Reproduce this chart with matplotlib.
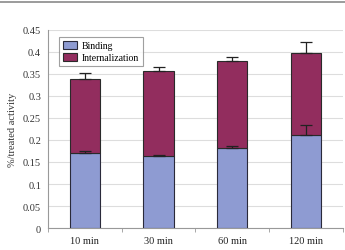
import matplotlib
matplotlib.use("Agg")
import matplotlib.pyplot as plt
from matplotlib.lines import Line2D
import numpy as np

categories = ["10 min", "30 min", "60 min", "120 min"]
binding = [0.170, 0.164, 0.182, 0.211]
internalization = [0.169, 0.192, 0.197, 0.186]
binding_err = [0.005, 0.002, 0.004, 0.023]
total_err = [0.013, 0.009, 0.010, 0.026]
yticks = [0, 0.05, 0.1, 0.15, 0.2, 0.25, 0.3, 0.35, 0.4, 0.45]
ytick_labels = ["0", "0.05", "0.1", "0.15", "0.2", "0.25", "0.3", "0.35", "0.4", "0.45"]

plt.rcParams['font.family'] = ['Liberation Serif', 'DejaVu Serif']

fig = plt.figure(figsize=(3.45, 2.51), dpi=100)
fig.add_artist(Line2D([0, 1], [0.988, 0.988], color="#8a8a8a", lw=1.2, transform=fig.transFigure))
ax = fig.add_axes([0.139, 0.0876, 0.855, 0.789])

x = np.arange(len(categories))
w = 0.41
c_bind = "#8e9bd2"
c_int = "#922d5e"
ax.bar(x, binding, w, color=c_bind, edgecolor="#2a2a3a", lw=0.8, label="Binding", zorder=3)
totals = [b + i for b, i in zip(binding, internalization)]
ax.bar(x, internalization, w, bottom=binding, color=c_int, edgecolor="#2a2a2a", lw=0.8,
       label="Internalization", zorder=3)
ax.errorbar(x, binding, yerr=[np.zeros(len(x)), binding_err], fmt="none", ecolor="#222222",
            elinewidth=0.9, capsize=4.5, capthick=0.9, zorder=4)
ax.errorbar(x, totals, yerr=[np.zeros(len(x)), total_err], fmt="none", ecolor="#222222",
            elinewidth=0.9, capsize=4.5, capthick=0.9, zorder=4)

ax.set_ylim(0, 0.45)
ax.set_xlim(-0.5, len(categories) - 0.5)
ax.set_yticks(yticks)
ax.set_yticklabels(ytick_labels, fontsize=7.5, color="#333333")
ax.yaxis.grid(True, color="#dddddd", lw=0.8, zorder=0)
ax.tick_params(axis="y", length=0, pad=5)
ax.set_xticks(x)
ax.set_xticklabels(categories, fontsize=7.5, color="#222222")
ax.set_xticks(np.arange(len(categories) + 1) - 0.5, minor=True)
ax.tick_params(axis="x", which="major", length=0, pad=6)
ax.tick_params(axis="x", which="minor", length=3, color="#999999", direction="out")
for s in ["top", "right"]:
    ax.spines[s].set_visible(False)
ax.spines["left"].set_color("#999999")
ax.spines["bottom"].set_color("#999999")
ax.spines["left"].set_linewidth(0.8)
ax.spines["bottom"].set_linewidth(0.8)
ax.set_ylabel("%/treated activity", fontsize=7.5, color="#333333", labelpad=4)

leg = ax.legend(loc="upper left", bbox_to_anchor=(0.02, 0.99), fontsize=7, frameon=True,
                fancybox=False, edgecolor="#888888", handlelength=1.5, handleheight=0.9,
                borderpad=0.4, labelspacing=0.3, handletextpad=0.5)
leg.get_frame().set_linewidth(0.8)

fig.savefig("out.png", dpi=100)
